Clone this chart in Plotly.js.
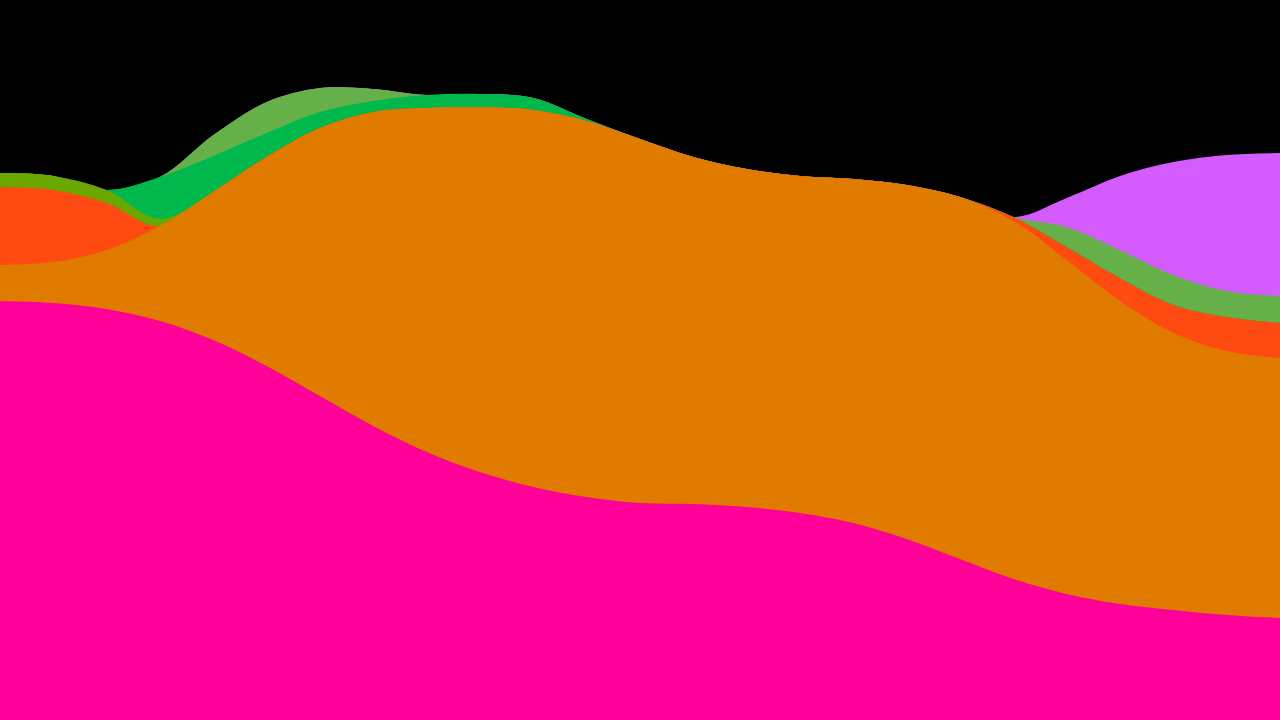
<!DOCTYPE html>
<html>
<head>
<meta charset="utf-8">
<script src="https://cdn.plot.ly/plotly-3.0.1.min.js"></script>
<style>html,body{margin:0;padding:0;background:#000;}#chart{width:1280px;height:720px;}</style>
</head>
<body>
<div id="chart"></div>
<script>
// sample positions (index along the horizontal axis)
const steps = [0,1,2,3,4,5,6,7,8,9,10,11,12,13,14,15,16,17,18,19,20,21,22,23,24];
// layer values, bottom to top
const pink       = [419,417,411,399,380,354,324,294,268,248,233,223,217,216,213,207,197,181,161,141,126,116,110,105,102];
const orange     = [ 36, 41, 59, 95,148,209,268,314,344,365,377,376,364,347,338,337,344,354,362,358,334,303,277,264,260];
const red        = [ 78, 72, 47,  0,  0,  0,  0,  0,  0,  0,  0,  0,  0,  0,  0,  0,  0,  0,  0,  4, 13, 23, 28, 34, 35];
const olive      = [ 14, 14, 13,  7,  0,  0,  0,  0,  0,  0,  0,  0,  0,  0,  0,  0,  0,  0,  0,  0,  0,  0,  0,  0,  0];
const green      = [  0,  0,  0, 42, 36, 24, 16, 11, 13, 13, 12,  2,  0,  0,  0,  0,  0,  0,  0,  0,  0,  0,  0,  0,  0];
const lightgreen = [  0,  0,  0,  0, 21, 31, 24, 12,  0,  0,  0,  0,  0,  0,  0,  0,  0,  0,  0,  0, 20, 28, 30, 26, 27];
const purple     = [  0,  0,  0,  0,  0,  0,  0,  0,  0,  0,  0,  0,  0,  0,  0,  0,  0,  0,  0,  0, 29, 74,113,136,143];

const layers = [
  {name:'pink', v:pink, c:'#ff0099'},
  {name:'orange', v:orange, c:'#e07b00'},
  {name:'red', v:red, c:'#ff4a12'},
  {name:'olive', v:olive, c:'#6aa800'},
  {name:'green', v:green, c:'#00b84c'},
  {name:'lightgreen', v:lightgreen, c:'#66b04a'},
  {name:'purple', v:purple, c:'#d45cff'}
];

// cumulative stacks
let acc = steps.map(()=>0);
const cum = layers.map(l => { acc = acc.map((a,i)=>a + l.v[i]); return acc.slice(); });

// draw top-most cumulative first so lower layers cover it
const traces = [];
for (let k = layers.length - 1; k >= 0; k--) {
  traces.push({
    x: steps, y: cum[k], name: layers[k].name,
    type: 'scatter', mode: 'lines',
    line: {shape: 'spline', smoothing: 1, width: 0, color: layers[k].c},
    fill: 'tozeroy', fillcolor: layers[k].c,
    hoverinfo: 'skip'
  });
}

const layout = {
  width: 1280, height: 720,
  margin: {l:0, r:0, t:0, b:0, pad:0},
  paper_bgcolor: '#000', plot_bgcolor: '#000',
  showlegend: false,
  xaxis: {range:[0,24], visible:false, fixedrange:true},
  yaxis: {range:[0,720], visible:false, fixedrange:true}
};
Plotly.newPlot('chart', traces, layout, {staticPlot:true, displayModeBar:false});
</script>
</body>
</html>
